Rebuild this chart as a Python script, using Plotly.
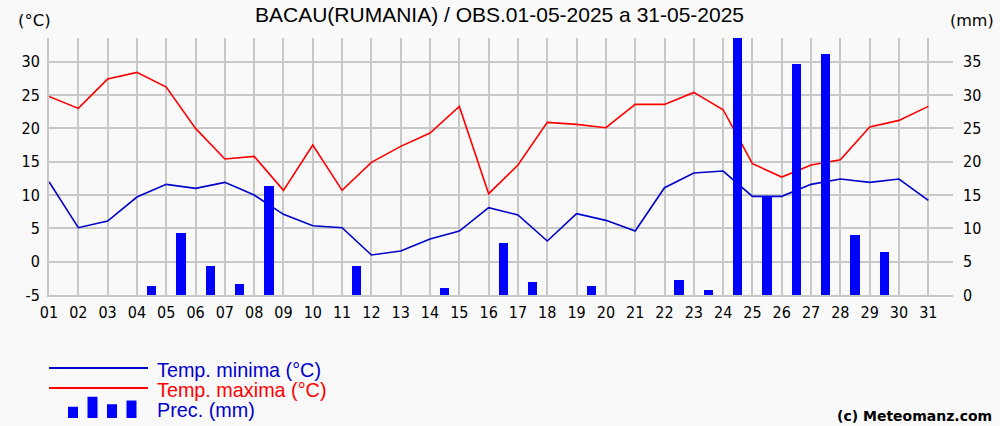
import plotly.graph_objects as go

# ---------------- data ----------------
days = list(range(1, 32))
day_labels = [f"{d:02d}" for d in days]

tmax = [24.8, 23.0, 27.4, 28.4, 26.2, 20.0, 15.4, 15.8, 10.7, 17.5,
        10.7, 14.9, 17.3, 19.3, 23.3, 10.2, 14.5, 20.9, 20.6, 20.1,
        23.6, 23.6, 25.4, 22.8, 14.7, 12.7, 14.5, 15.3, 20.2, 21.2, 23.3]

tmin = [12.0, 5.1, 6.1, 9.7, 11.6, 11.0, 11.9, 10.0, 7.1, 5.4,
        5.1, 1.0, 1.6, 3.4, 4.6, 8.1, 7.0, 3.1, 7.2, 6.2,
        4.6, 11.1, 13.3, 13.6, 9.8, 9.8, 11.6, 12.4, 11.9, 12.4, 9.2]

# precipitation of each interval between day d and day d+1
prec_days = list(range(1, 31))
prec = [0, 0, 0, 1.4, 9.3, 4.3, 1.7, 16.4, 0, 0,
        4.3, 0, 0, 1.1, 0, 7.8, 1.9, 0, 1.4, 0,
        0, 2.3, 0.8, 38.7, 14.8, 34.6, 36.1, 9.0, 6.4, 0]

left_ticks = [-5, 0, 5, 10, 15, 20, 25, 30]
left_labels = ["-5", "0", "5", "10", "15", "20", "25", "30"]
right_ticks = [0, 5, 10, 15, 20, 25, 30, 35]
right_labels = ["0", "5", "10", "15", "20", "25", "30", "35"]

title_text = "BACAU(RUMANIA) / OBS.01-05-2025 a 31-05-2025"
legend_labels = ["Temp. minima (°C)", "Temp. maxima (°C)", "Prec. (mm)"]
legend_bar_heights = [0.45, 0.85, 0.55, 0.7]

# ---------------- layout constants ----------------
W, H = 1000, 426
PL, PR, PT, PB = 49, 953, 38, 295   # plot area in pixels
BG = "#f9f9f9"
GRID = "#c8c8c8"
BLUE_LINE = "#0000cc"
BLUE_BAR = "#0000ff"
RED = "#ff0000"
TICKFONT = dict(family="DejaVu Sans Condensed, DejaVu Sans", size=16, color="#000000")


def px(x):
    return (x - PL) / (PR - PL)


def py(y):
    return (PB - y) / (PB - PT)


fig = go.Figure()

fig.add_trace(go.Scatter(x=days, y=tmax, mode="lines",
                         line=dict(color=RED, width=1.6), yaxis="y",
                         hoverinfo="skip"))
fig.add_trace(go.Scatter(x=days, y=tmin, mode="lines",
                         line=dict(color=BLUE_LINE, width=1.6), yaxis="y",
                         hoverinfo="skip"))
fig.add_trace(go.Bar(x=[d + 0.5 for d in prec_days], y=prec, width=0.32,
                     marker=dict(color=BLUE_BAR, line=dict(width=0)),
                     yaxis="y2", hoverinfo="skip"))

x_max = 31 + (PR - 928.3) / ((928.3 - PL) / 30)

fig.update_layout(
    width=W, height=H,
    margin=dict(l=PL, r=W - PR, t=PT, b=H - PB, pad=0),
    paper_bgcolor=BG, plot_bgcolor=BG,
    showlegend=False,
    bargap=0,
    xaxis=dict(range=[1, x_max], tickmode="array", tickvals=days,
               ticktext=day_labels, showgrid=True, gridcolor=GRID,
               gridwidth=2, zeroline=False, showline=True, linecolor=GRID,
               linewidth=2, ticks="", tickfont=TICKFONT,
               ticklabelstandoff=2, fixedrange=True),
    yaxis=dict(range=[-5, 33.56], tickmode="array", tickvals=left_ticks,
               ticktext=left_labels,
               showgrid=True, gridcolor=GRID, gridwidth=2, zeroline=False,
               showline=True, linecolor=GRID, linewidth=2, ticks="",
               tickfont=TICKFONT, ticklabelstandoff=4, fixedrange=True),
    yaxis2=dict(range=[0, 38.56], tickmode="array", tickvals=right_ticks,
                ticktext=right_labels,
                overlaying="y", side="right", showgrid=False, zeroline=False,
                showline=False, ticks="", tickfont=TICKFONT,
                ticklabelstandoff=9, fixedrange=True),
)

annotations = [
    dict(text=title_text, x=px(499), y=py(14), xref="paper", yref="paper",
         showarrow=False, xanchor="center", yanchor="middle",
         font=dict(family="Liberation Sans, Arial", size=21, color="#000000")),
    dict(text="(°C)", x=px(34.5), y=py(20), xref="paper", yref="paper",
         showarrow=False, xanchor="center", yanchor="middle",
         font=dict(family="DejaVu Sans", size=16.5, color="#000000")),
    dict(text="(mm)", x=px(972), y=py(20), xref="paper", yref="paper",
         showarrow=False, xanchor="center", yanchor="middle",
         font=dict(family="DejaVu Sans", size=16, color="#000000")),
    dict(text=legend_labels[0], x=px(155), y=py(370), xref="paper", yref="paper",
         showarrow=False, xanchor="left", yanchor="middle",
         font=dict(family="Liberation Sans, Arial", size=19.8, color=BLUE_LINE)),
    dict(text=legend_labels[1], x=px(155), y=py(390), xref="paper", yref="paper",
         showarrow=False, xanchor="left", yanchor="middle",
         font=dict(family="Liberation Sans, Arial", size=19.8, color=RED)),
    dict(text=legend_labels[2], x=px(155), y=py(410), xref="paper", yref="paper",
         showarrow=False, xanchor="left", yanchor="middle",
         font=dict(family="Liberation Sans, Arial", size=19.8, color=BLUE_LINE)),
    dict(text="<b>(c) Meteomanz.com</b>", x=px(994), y=py(416), xref="paper",
         yref="paper", showarrow=False, xanchor="right", yanchor="middle",
         font=dict(family="DejaVu Sans", size=14, color="#000000")),
]

shapes = [
    dict(type="line", xref="paper", yref="paper", x0=px(49), x1=px(148),
         y0=py(368), y1=py(368), line=dict(color=BLUE_LINE, width=2)),
    dict(type="line", xref="paper", yref="paper", x0=px(49), x1=px(148),
         y0=py(388), y1=py(388), line=dict(color=RED, width=2)),
]
for i, h in enumerate(legend_bar_heights):
    x0 = 68 + i * 19.5
    shapes.append(dict(type="rect", xref="paper", yref="paper",
                       x0=px(x0), x1=px(x0 + 10), y0=py(418),
                       y1=py(418 - 25 * h), fillcolor=BLUE_BAR,
                       line=dict(width=0)))

fig.update_layout(annotations=annotations, shapes=shapes)

fig.write_html("out.html",
               config={"displayModeBar": False},
               post_script="document.body.style.margin='0';"
                           "document.body.style.padding='0';"
                           "document.body.style.overflow='hidden';")
